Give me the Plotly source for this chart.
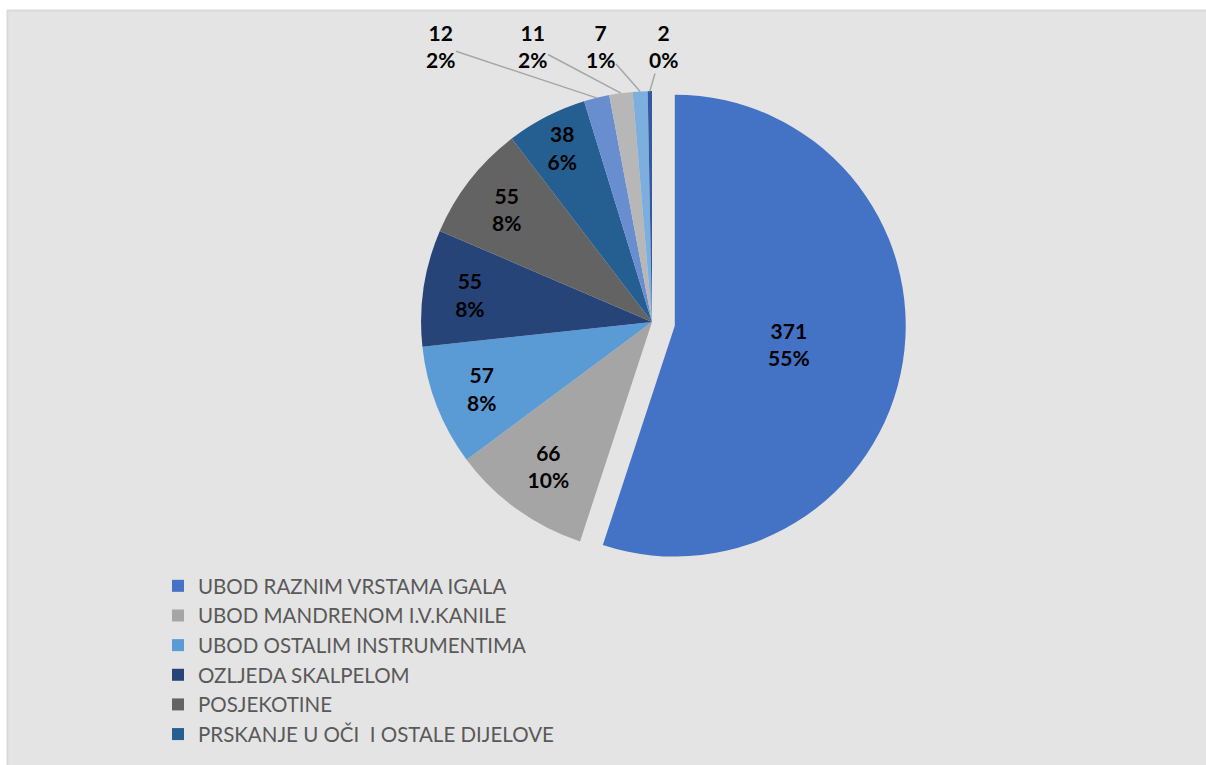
import math
import plotly.graph_objects as go

# Occupational injury types and their counts
categories = [
    "UBOD RAZNIM VRSTAMA IGALA",
    "UBOD MANDRENOM I.V.KANILE",
    "UBOD OSTALIM INSTRUMENTIMA",
    "OZLJEDA SKALPELOM",
    "POSJEKOTINE",
    "PRSKANJE U OČI  I OSTALE DIJELOVE",
    "OSTALO 1",
    "OSTALO 2",
    "OSTALO 3",
    "OSTALO 4",
]
counts = [371, 66, 57, 55, 55, 38, 12, 11, 7, 2]
colors = ["#4472C4", "#A5A5A5", "#5B9BD5", "#264478", "#636363",
          "#255E91", "#698ED0", "#B7B7B7", "#7CAFDD", "#335AA1"]
legend_count = 6          # only the first six categories are listed in the legend
inside_count = 6          # slices labelled inside; the rest get leader-line labels

W, H = 1206, 765
FONT = "Lato"

# pie placement in pixels
cx, cy, half = 652, 322, 254
pull_big = 0.1
radius = half / (1 + pull_big)

fig = go.Figure()

fig.add_trace(go.Pie(
    labels=categories,
    values=counts,
    sort=False,
    direction="clockwise",
    rotation=0,
    pull=[pull_big] + [0] * (len(counts) - 1),
    marker=dict(colors=colors, line=dict(width=0)),
    texttemplate=["<b>%{value}<br>%{percent:.0%}</b>"] * inside_count + [""] * (len(counts) - inside_count),
    textposition="inside",
    insidetextorientation="horizontal",
    textfont=dict(family=FONT, size=21, color="#000000"),
    showlegend=False,
    domain=dict(x=[(cx - half) / W, (cx + half) / W],
                y=[1 - (cy + half) / H, 1 - (cy - half) / H]),
    hoverinfo="label+value+percent",
))

# Legend entries as square markers
for name, col in zip(categories[:legend_count], colors[:legend_count]):
    fig.add_trace(go.Scatter(
        x=[None], y=[None], mode="markers", name=name,
        marker=dict(symbol="square", size=13, color=col),
        showlegend=True,
    ))

# Leader-line labels for the thin slices at the top
total = sum(counts)
label_x = [440, 532, 600, 663]
label_y = 46
cum = sum(counts[:inside_count])
annotations = []
for i, lx in zip(range(inside_count, len(counts)), label_x):
    mid = (cum + counts[i] / 2) / total * 2 * math.pi
    cum += counts[i]
    tx = cx + radius * math.sin(mid)
    ty = cy - radius * math.cos(mid)
    pct = round(counts[i] / total * 100)
    annotations.append(dict(
        x=tx / W, y=1 - ty / H, xref="paper", yref="paper",
        text=f"<b>{counts[i]}<br>{pct}%</b>",
        showarrow=True, arrowhead=0, arrowwidth=1.5, arrowcolor="#A6A6A6",
        ax=lx - tx, ay=label_y - ty, axref="pixel", ayref="pixel",
        font=dict(family=FONT, size=21, color="#000000"),
        align="center",
    ))

fig.update_layout(
    width=W, height=H,
    margin=dict(l=0, r=0, t=0, b=0),
    paper_bgcolor="#FFFFFF",
    plot_bgcolor="rgba(0,0,0,0)",
    xaxis=dict(visible=False),
    yaxis=dict(visible=False),
    shapes=[dict(
        type="rect", xref="paper", yref="paper", layer="below",
        x0=7.5 / W, x1=1.2, y0=-0.2, y1=1 - 10.5 / H,
        fillcolor="#E4E4E4", line=dict(color="#D9D9D9", width=2),
    )],
    annotations=annotations,
    legend=dict(
        x=158 / W, y=1 - 566 / H, xanchor="left", yanchor="top",
        bgcolor="rgba(0,0,0,0)",
        font=dict(family=FONT, size=20.5, color="#595959"),
        itemsizing="constant",
    ),
    uniformtext=dict(minsize=21, mode="show"),
)

fig.write_html("out.html")
